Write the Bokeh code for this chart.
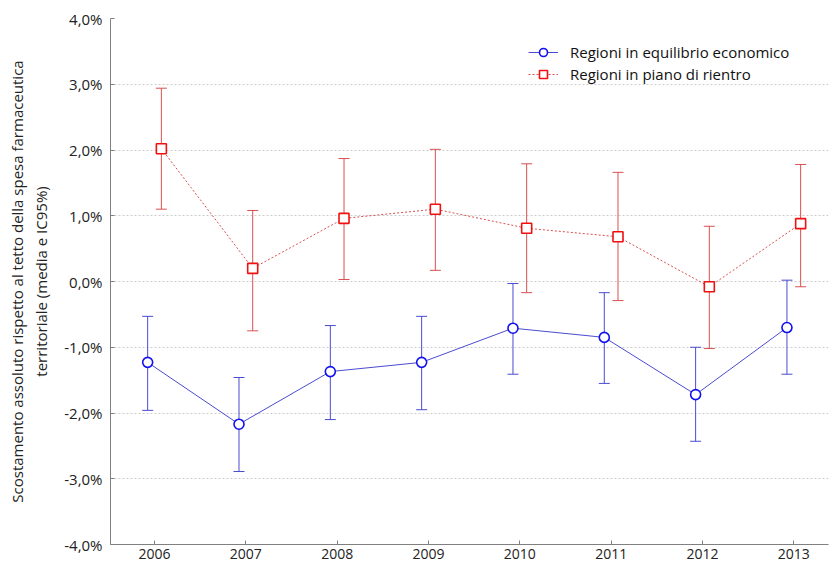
from bokeh.plotting import figure
from bokeh.models import ColumnDataSource, Whisker, TeeHead, FixedTicker, CustomJSTickFormatter, Range1d, Legend, LegendItem
from bokeh.transform import dodge
from bokeh.embed import file_html
from bokeh.resources import INLINE

years = [2006, 2007, 2008, 2009, 2010, 2011, 2012, 2013]

eq_mean = [-1.23, -2.17, -1.37, -1.23, -0.71, -0.85, -1.72, -0.70]
eq_upper = [-0.53, -1.46, -0.67, -0.53, -0.03, -0.17, -1.00, 0.02]
eq_lower = [-1.96, -2.89, -2.10, -1.95, -1.41, -1.55, -2.43, -1.41]

pr_mean = [2.02, 0.20, 0.96, 1.10, 0.81, 0.68, -0.08, 0.88]
pr_upper = [2.94, 1.08, 1.87, 2.01, 1.79, 1.66, 0.84, 1.78]
pr_lower = [1.10, -0.75, 0.03, 0.17, -0.17, -0.29, -1.02, -0.08]

y_ticks = [-4, -3, -2, -1, 0, 1, 2, 3, 4]

label_eq = "Regioni in equilibrio economico"
label_pr = "Regioni in piano di rientro"
y_title = "Scostamento assoluto rispetto al tetto della spesa farmaceutica\nterritoriale (media e IC95%)"

FONT = "Open Sans"
BLUE_LINE = "#4b4bd0"
BLUE_MARK = "#1010f0"
RED_LINE = "#d85050"
RED_MARK = "#f01010"

src_eq = ColumnDataSource(dict(year=years, mean=eq_mean, upper=eq_upper, lower=eq_lower))
src_pr = ColumnDataSource(dict(year=years, mean=pr_mean, upper=pr_upper, lower=pr_lower))

p = figure(width=830, height=570, output_backend="svg", toolbar_location=None,
           x_range=Range1d(2005.518, 2013.38), y_range=Range1d(-4, 4),
           min_border_left=110, min_border_top=18, min_border_right=2, min_border_bottom=26)
p.outline_line_color = None
p.background_fill_color = "white"

dx_eq = dodge("year", -0.075, range=p.x_range)
dx_pr = dodge("year", 0.075, range=p.x_range)

# error bars
w1 = Whisker(source=src_eq, base=dx_eq, upper="upper", lower="lower",
             line_color=BLUE_LINE, line_width=1,
             upper_head=TeeHead(size=11, line_color=BLUE_LINE, line_width=1),
             lower_head=TeeHead(size=11, line_color=BLUE_LINE, line_width=1))
w2 = Whisker(source=src_pr, base=dx_pr, upper="upper", lower="lower",
             line_color=RED_LINE, line_width=1,
             upper_head=TeeHead(size=11, line_color=RED_LINE, line_width=1),
             lower_head=TeeHead(size=11, line_color=RED_LINE, line_width=1))
p.add_layout(w1)
p.add_layout(w2)

l1 = p.line(dx_eq, "mean", source=src_eq, line_color=BLUE_LINE, line_width=1)
m1 = p.scatter(dx_eq, "mean", source=src_eq, marker="circle", size=10,
               line_color=BLUE_MARK, line_width=1.6, fill_color="white")
l2 = p.line(dx_pr, "mean", source=src_pr, line_color=RED_LINE, line_width=1, line_dash="2 2")
m2 = p.scatter(dx_pr, "mean", source=src_pr, marker="square", size=10,
               line_color=RED_MARK, line_width=1.6, fill_color="white")

# axes
p.xaxis.ticker = FixedTicker(ticks=years)
p.yaxis.ticker = FixedTicker(ticks=y_ticks)
p.yaxis.formatter = CustomJSTickFormatter(code="return tick.toFixed(1).replace('.', ',') + '%';")
for ax in (p.xaxis[0], p.yaxis[0]):
    ax.axis_line_color = "#808080"
    ax.major_tick_line_color = "#808080"
    ax.major_tick_in = 4
    ax.major_tick_out = 0
    ax.minor_tick_line_color = None
    ax.major_label_text_font = FONT
    ax.major_label_text_font_size = "14px"
    ax.major_label_text_color = "#222222"
p.yaxis.major_label_text_font_size = "15px"
p.xaxis.major_label_standoff = 4
p.yaxis.major_label_standoff = 8
p.yaxis.axis_label = y_title
p.yaxis.axis_label_text_font = FONT
p.yaxis.axis_label_text_font_size = "15px"
p.yaxis.axis_label_text_font_style = "normal"
p.yaxis.axis_label_text_color = "#222222"
p.yaxis.axis_label_standoff = 10
p.yaxis.axis_label_text_align = "center"

p.xgrid.grid_line_color = None
p.ygrid.grid_line_color = "#cccccc"
p.ygrid.grid_line_dash = "2 2"
p.ygrid.grid_line_width = 1

legend = Legend(items=[LegendItem(label=label_eq, renderers=[l1, m1]),
                       LegendItem(label=label_pr, renderers=[l2, m2])],
                location=(418, 460), orientation="vertical")
legend.border_line_color = None
legend.background_fill_color = "white"
legend.background_fill_alpha = 1
legend.label_text_font = FONT
legend.label_text_font_size = "15px"
legend.label_text_color = "#111111"
legend.glyph_width = 30
legend.glyph_height = 20
legend.label_standoff = 12
legend.spacing = 2
legend.padding = 4
legend.margin = 0
p.add_layout(legend)

open("out.html", "w").write(file_html(p, INLINE))
